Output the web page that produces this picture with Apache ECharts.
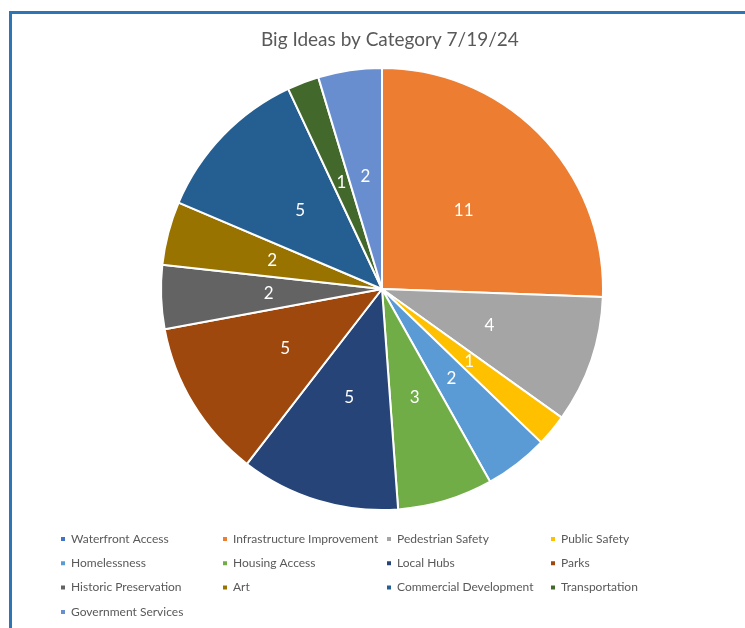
<!DOCTYPE html>
<html>
<head>
<meta charset="utf-8">
<script src="https://cdn.jsdelivr.net/npm/echarts@6/dist/echarts.min.js"></script>
<style>
  html, body { margin: 0; padding: 0; background: #fff; }
  .frame {
    position: absolute; left: 9px; top: 11px; width: 800px; height: 700px;
    border-left: 3px solid #2e75b6; border-top: 3px solid #2e75b6;
  }
  #main { position: absolute; left: 0; top: 0; width: 745px; height: 628px; }
</style>
</head>
<body>
<div class="frame"></div>
<div id="main"></div>
<script>
var categories = [
  'Waterfront Access', 'Infrastructure Improvement', 'Pedestrian Safety', 'Public Safety',
  'Homelessness', 'Housing Access', 'Local Hubs', 'Parks',
  'Historic Preservation', 'Art', 'Commercial Development', 'Transportation',
  'Government Services'
];
var counts = [0, 11, 4, 1, 2, 3, 5, 5, 2, 2, 5, 1, 2];
var colors = [
  '#4472c4', '#ed7d31', '#a5a5a5', '#ffc000',
  '#5b9bd5', '#70ad47', '#264478', '#9e480e',
  '#636363', '#997300', '#255e91', '#43682b',
  '#698ed0'
];

var chart = echarts.init(document.getElementById('main'));

// legend laid out as 4 fixed columns, like the original
var colLeft = [59, 221, 385, 549];
var legends = colLeft.map(function (x, c) {
  var names = categories.filter(function (n, i) { return i % 4 === c; });
  return {
    data: names,
    orient: 'vertical',
    left: x,
    top: 531,
    padding: 0,
    itemWidth: 6,
    itemHeight: 6,
    itemGap: 8.3,
    icon: 'rect',
    textStyle: { color: '#595959', fontSize: 12, fontFamily: 'Lato', lineHeight: 16 }
  };
});

chart.setOption({
  animation: false,
  color: colors,
  title: {
    text: 'Big Ideas by Category 7/19/24',
    left: 256,
    top: 25,
    textStyle: { color: '#595959', fontSize: 19, fontWeight: 'normal', fontFamily: 'Lato' }
  },
  legend: legends,
  series: [
    {
      type: 'pie',
      center: [382, 289],
      radius: [0, 221],
      startAngle: 90,
      clockwise: true,
      avoidLabelOverlap: false,
      itemStyle: { borderColor: '#fff', borderWidth: 2 },
      label: {
        show: true,
        position: 'inside',
        color: '#fff',
        fontSize: 17,
        fontFamily: 'Lato',
        formatter: function (p) { return p.value ? String(p.value) : ''; }
      },
      labelLine: { show: false },
      emphasis: { disabled: true },
      data: categories.map(function (n, i) { return { name: n, value: counts[i] }; })
    }
  ]
});
</script>
</body>
</html>
